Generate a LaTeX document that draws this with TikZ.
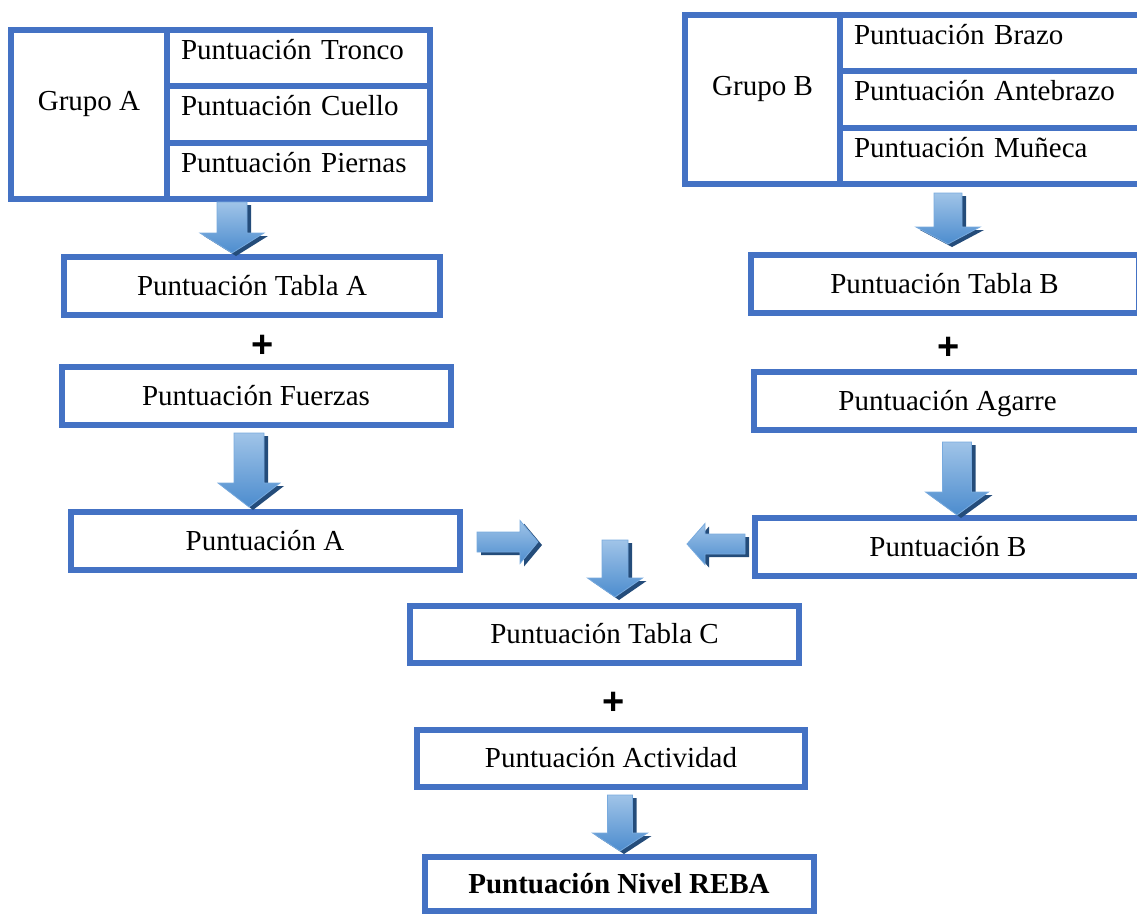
\documentclass[tikz,border=0pt]{standalone}
\usepackage{fontspec}
\setmainfont{Liberation Serif}
\newfontfamily\plusfont{Liberation Sans}
\usetikzlibrary{positioning,calc}

\definecolor{boxblue}{RGB}{68,114,196}
\definecolor{arrowlight}{RGB}{160,196,232}
\definecolor{arrowmid}{RGB}{76,140,206}
\definecolor{arrowedge}{RGB}{120,170,222}
\definecolor{arrowshadow}{RGB}{36,76,122}

% fat block arrow: tail, tip, half shaft, half head, head length
\newcommand{\fatpath}[5]{($(#1)!#3pt!90:(#2)$) -- ($(fa-h)!#3pt!90:(#2)$) -- ($(fa-h)!#4pt!90:(#2)$) -- (#2)
  -- ($(fa-h)!#4pt!-90:(#2)$) -- ($(fa-h)!#3pt!-90:(#2)$) -- ($(#1)!#3pt!-90:(#2)$) -- cycle}
\newcommand{\fatarrow}[5]{%
  \coordinate (fa-h) at ($(#2)!#5pt!(#1)$);
  \begin{scope}[transform canvas={xshift=4pt,yshift=-3pt}]
    \fill[arrowshadow] \fatpath{#1}{#2}{#3}{#4}{#5};
  \end{scope}
  \shadedraw[top color=arrowlight, bottom color=arrowmid, draw=arrowedge, line width=0.8pt] \fatpath{#1}{#2}{#3}{#4}{#5};
}

\begin{document}
\begin{tikzpicture}[
  x=1pt, y=-1pt,
  font=\fontsize{29}{34}\selectfont,
  box/.style={draw=boxblue, line width=6pt, inner sep=0pt, outer sep=0pt, text height=19pt, text depth=0pt},
  cell/.style={draw=boxblue, line width=6pt, inner xsep=14pt, inner ysep=0pt, outer sep=0pt, text height=29pt, align=left, anchor=north west},
  grp/.style={draw=boxblue, line width=6pt, inner sep=0pt, outer sep=0pt, text height=80pt, text depth=89pt, anchor=north west},
  plus/.style={font=\plusfont\bfseries\fontsize{38}{40}\selectfont, inner sep=0pt, anchor=base}
]
\useasboundingbox (0,0) rectangle (1137,914);
\clip (0,0) rectangle (1137,914);

% group A
\node[grp, minimum width=156] (grpA) at (11,30) {Grupo A};
\node[cell, text width=235pt, text depth=27pt] (tronco) at (167,30) {Puntuación Tronco};
\node[cell, text width=235pt, text depth=28pt] (cuello) at (tronco.south west) {Puntuación Cuello};
\node[cell, text width=235pt, text depth=27pt] (piernas) at (cuello.south west) {Puntuación Piernas};

% group B
\node[grp, minimum width=155] (grpB) at (685,15) {Grupo B};
\node[cell, text width=273pt, text depth=27pt] (brazo) at (840,15) {Puntuación Brazo};
\node[cell, text width=273pt, text depth=28pt] (antebrazo) at (brazo.south west) {Puntuación Antebrazo};
\node[cell, text width=273pt, text depth=27pt] (muneca) at (antebrazo.south west) {Puntuación Muñeca};

% score boxes
\node[box, minimum width=376, minimum height=58] (tabA) at (252,285.5) {Puntuación Tabla A};
\node[box, minimum width=389, minimum height=57.5] (fuerzas) at (256,396) {Puntuación Fuerzas};
\node[box, minimum width=389, minimum height=58.5] (puntA) at (265,541) {Puntuación A};
\node[box, minimum width=388, minimum height=57.5] (tabB) at (944.5,284) {Puntuación Tabla B};
\node[box, minimum width=387, minimum height=58.5] (agarre) at (947.5,401) {Puntuación Agarre};
\node[box, minimum width=386.5, minimum height=58] (puntB) at (948,547) {Puntuación B};
\node[box, minimum width=389, minimum height=57] (tabC) at (604.5,634) {Puntuación Tabla C};
\node[box, minimum width=388, minimum height=57] (activ) at (611,758) {Puntuación Actividad};
\node[box, minimum width=389, minimum height=54, font=\fontsize{29}{34}\selectfont\bfseries] (reba) at (619,884) {Puntuación Nivel REBA};

% plus signs
\foreach \x/\y [count=\i] in {263/357, 949/359, 614/714}
  \node[plus] (plus\i) at (\x,\y) {+};

% block arrows
\fatarrow{232,202}{232,253}{15}{32}{20}
\fatarrow{249,433}{249,507}{15}{31}{24}
\fatarrow{948,193}{948,244}{14}{32}{17}
\fatarrow{957,442}{957,515}{14.5}{31.5}{23}
\fatarrow{477,542}{538,542}{10}{21.5}{18}
\fatarrow{745,544}{687,544}{10}{20.5}{18}
\fatarrow{615,540}{615,597}{13}{27.5}{19}
\fatarrow{620,795}{620,851}{12.5}{27.5}{18}

\end{tikzpicture}
\end{document}
